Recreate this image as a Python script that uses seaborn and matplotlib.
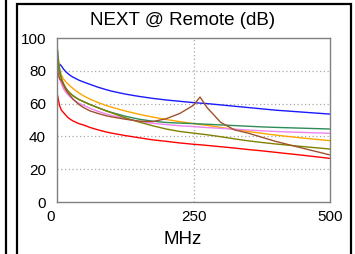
import matplotlib
matplotlib.use("Agg")
import matplotlib.pyplot as plt
import matplotlib.transforms as mtransforms
from matplotlib.patches import Rectangle
from matplotlib.lines import Line2D
import seaborn as sns
import pandas as pd

freq = [1, 3, 5, 8, 12, 16, 20, 25, 30, 40, 50, 60, 75, 90, 100, 125, 150, 175,
        200, 225, 250, 262, 275, 300, 325, 350, 375, 400, 450, 500]

blue   = [78, 82, 84, 83, 81, 79.5, 78.3, 77, 76, 74.3, 73, 71.8, 70, 68.5, 67.6, 65.8, 64.4, 63.2,
          62.2, 61.4, 60.6, 60.3, 60, 59.2, 58.4, 57.6, 56.8, 56, 54.8, 53.6]
orange = [92, 86, 81, 77.5, 75, 73.3, 72, 70.5, 69, 66.5, 64.5, 62.8, 60.7, 58.8, 57.8, 55.5, 53.5, 51.8,
          50.3, 49, 47.8, 47.3, 46.7, 45.5, 44.2, 43, 41.9, 40.8, 39, 37.4]
green  = [93, 85, 80, 75.5, 72, 69.5, 67.7, 66, 64.6, 62.5, 61, 59.5, 57.5, 55.7, 54.6, 52.3, 50.5, 49.3,
          48.5, 48.1, 47.8, 47.6, 47.4, 47, 46.6, 46.2, 45.8, 45.5, 45, 44.5]
violet = [82, 78, 75, 72, 69, 67, 65.5, 63.8, 62.4, 60.2, 58.7, 57.2, 55.3, 53.7, 52.8, 50.8, 49.2, 48,
          47.2, 46.5, 46, 45.7, 45.4, 44.9, 44.4, 43.9, 43.4, 43, 42.4, 41.9]
olive  = [88, 82, 78.5, 75, 72, 69.5, 67.7, 66, 64.6, 62.5, 61, 59.5, 57.5, 55.5, 54.4, 51.3, 48.8, 46.5,
          44.5, 43, 42, 41.5, 41, 39.8, 38.5, 37.3, 36.3, 35.4, 33.8, 32.3]
brown  = [80, 77, 75, 74, 71, 68.5, 66.5, 64.5, 62.5, 59.5, 57.3, 55.6, 54, 52.6, 51.9, 50.5, 49.3, 49,
          50.8, 54, 59, 64, 57.5, 48.5, 44, 42, 39.5, 37, 32.8, 28.7]
red    = [65, 61.5, 58.5, 56, 54.5, 53, 51.5, 50.3, 49.3, 47.8, 46.8, 45.5, 44, 42.7, 42, 40.5, 39.2, 37.9,
          37, 36, 35.2, 34.9, 34.5, 33.7, 32.9, 32, 31.2, 30.3, 28.5, 26.6]

series_names = ["blue", "orange", "green", "violet", "olive", "brown", "red"]
series_values = [blue, orange, green, violet, olive, brown, red]
palette = ["#1a1aff", "#ffa500", "#2e8b57", "#ee82ee", "#808000", "#a0522d", "#ff0000"]

title = "NEXT @ Remote (dB)"
xlabel = "MHz"
xticks = [0, 250, 500]
yticks = [0, 20, 40, 60, 80, 100]

rows = []
for name, vals in zip(series_names, series_values):
    for f, v in zip(freq, vals):
        rows.append({"MHz": f, "dB": v, "series": name})
df = pd.DataFrame(rows)

sns.set_theme(style="white")
plt.rcParams["font.family"] = ["Liberation Sans", "DejaVu Sans"]

W, H = 355, 254
fig = plt.figure(figsize=(W / 100, H / 100), dpi=100)
ax = fig.add_axes([57 / W, 1 - 202 / H, (330 - 57) / W, (202 - 38) / H])

sns.lineplot(data=df, x="MHz", y="dB", hue="series", palette=palette,
             hue_order=series_names, ax=ax, linewidth=1.0, legend=False,
             estimator=None, sort=True)

ax.set_xlim(0, 500)
ax.set_ylim(0, 100)
ax.set_xticks(xticks)
ax.set_yticks(yticks)
ax.set_xticklabels([str(t) for t in xticks])
ax.set_yticklabels([str(t) for t in yticks])
ax.tick_params(axis="both", length=0, labelsize=11, colors="black")
ax.tick_params(axis="x", pad=6)
ax.tick_params(axis="y", pad=8)
ax.set_xlabel("")
ax.set_ylabel("")

for y in [20, 40, 60, 80]:
    ax.axhline(y, color="#a8a8a8", lw=0.9, ls=(0, (1, 2)), zorder=0)
ax.axvline(250, color="#a8a8a8", lw=0.9, ls=(0, (1, 2)), zorder=0)

for s in ax.spines.values():
    s.set_color("#808080")
    s.set_linewidth(1.0)

# shift first x tick label left
lab = ax.get_xticklabels()[0]
offset = mtransforms.ScaledTranslation(-6 / 100, 0, fig.dpi_scale_trans)
lab.set_transform(lab.get_transform() + offset)

fig.text(182.5 / W, 1 - 20.7 / H, title, ha="center", va="center", fontsize=13.5, color="black")
fig.text(182.3 / W, 1 - 240 / H, xlabel, ha="center", va="center", fontsize=13.5, color="black")

# panel frames
fig.add_artist(Rectangle((17 / W, -0.05), (351 - 17) / W, (1 - 4.5 / H) + 0.05,
                         transform=fig.transFigure, fill=False, edgecolor="black", lw=1.6))
fig.add_artist(Line2D([6 / W, 6 / W], [0, 1], transform=fig.transFigure, color="black", lw=1.6))

fig.savefig("out.png", dpi=100)
